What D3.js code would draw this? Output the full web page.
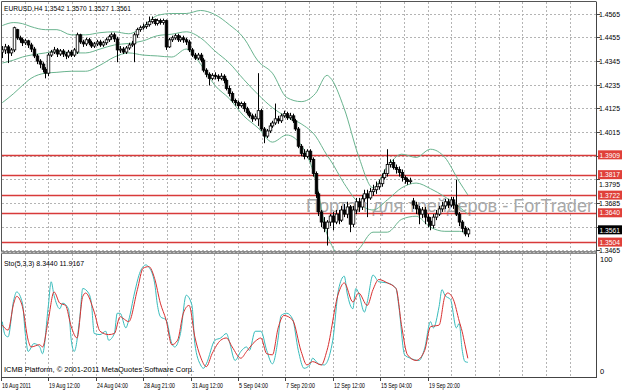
<!DOCTYPE html>
<html><head><meta charset="utf-8">
<script src="https://cdn.jsdelivr.net/npm/d3@7"></script>
<style>
html,body{margin:0;padding:0;background:#fff;}
svg{display:block;font-family:"Liberation Sans",Arial,sans-serif;}
</style></head><body>
<svg id="c" width="624" height="390"></svg>
<script>
// ---------------- DATA ----------------
const titleText = "EURUSD,H4  1.3542 1.3570 1.3527 1.3561";
const stoTitle = "Sto(5,3,3) 8.3440 11.9167";
const copyright = "ICMB Platform, \u00A9 2001-2011 MetaQuotes Software Corp.";
const watermark = "Портал для трейдеров - ForTrader";

const opens = [1.4386,1.4396,1.4410,1.4382,1.4396,1.4490,1.4452,1.4443,1.4429,1.4438,1.4419,1.4400,1.4368,1.4344,1.4330,1.4306,1.4288,1.4372,1.4386,1.4396,1.4377,1.4391,1.4377,1.4368,1.4386,1.4372,1.4386,1.4466,1.4433,1.4424,1.4443,1.4429,1.4414,1.4424,1.4433,1.4419,1.4429,1.4443,1.4457,1.4466,1.4447,1.4396,1.4400,1.4386,1.4405,1.4419,1.4424,1.4466,1.4490,1.4499,1.4504,1.4513,1.4527,1.4537,1.4518,1.4532,1.4523,1.4532,1.4410,1.4443,1.4452,1.4462,1.4443,1.4452,1.4443,1.4433,1.4396,1.4372,1.4358,1.4372,1.4349,1.4302,1.4283,1.4264,1.4278,1.4274,1.4264,1.4274,1.4255,1.4217,1.4194,1.4161,1.4151,1.4137,1.4147,1.4123,1.4104,1.4090,1.4076,1.4076,1.4114,1.4029,1.3996,1.4020,1.4043,1.4057,1.4076,1.4067,1.4090,1.4100,1.4081,1.4090,1.4067,1.4029,1.3949,1.3916,1.3902,1.3926,1.3888,1.3822,1.3728,1.3644,1.3597,1.3568,1.3597,1.3625,1.3597,1.3634,1.3606,1.3653,1.3634,1.3667,1.3587,1.3653,1.3691,1.3667,1.3705,1.3728,1.3709,1.3738,1.3747,1.3761,1.3775,1.3803,1.3822,1.3864,1.3874,1.3850,1.3841,1.3827,1.3803,1.3794,1.3785,1.3695,1.3676,1.3658,1.3634,1.3653,1.3620,1.3601,1.3582,1.3620,1.3634,1.3658,1.3672,1.3691,1.3676,1.3700,1.3676,1.3634,1.3597,1.3568,1.3542];
const highs = [1.4414,1.4424,1.4419,1.4405,1.4504,1.4494,1.4462,1.4452,1.4447,1.4443,1.4429,1.4410,1.4377,1.4353,1.4339,1.4316,1.4382,1.4396,1.4410,1.4405,1.4400,1.4400,1.4386,1.4396,1.4396,1.4405,1.4476,1.4471,1.4443,1.4452,1.4452,1.4438,1.4433,1.4443,1.4443,1.4438,1.4452,1.4466,1.4476,1.4476,1.4457,1.4414,1.4410,1.4414,1.4429,1.4438,1.4476,1.4499,1.4509,1.4518,1.4527,1.4551,1.4551,1.4541,1.4541,1.4541,1.4541,1.4537,1.4452,1.4462,1.4471,1.4471,1.4462,1.4462,1.4452,1.4443,1.4405,1.4382,1.4382,1.4382,1.4358,1.4311,1.4292,1.4288,1.4292,1.4283,1.4288,1.4283,1.4264,1.4231,1.4203,1.4170,1.4161,1.4156,1.4156,1.4132,1.4114,1.4100,1.4100,1.4288,1.4123,1.4038,1.4029,1.4057,1.4067,1.4147,1.4090,1.4100,1.4114,1.4109,1.4104,1.4100,1.4076,1.4038,1.3959,1.3935,1.3935,1.3935,1.3897,1.3832,1.3738,1.3653,1.3620,1.3606,1.3634,1.3644,1.3653,1.3653,1.3672,1.3681,1.3691,1.3676,1.3672,1.3709,1.3709,1.3723,1.3747,1.3747,1.3756,1.3770,1.3785,1.3794,1.3822,1.3841,1.3935,1.3888,1.3888,1.3864,1.3855,1.3841,1.3813,1.3803,1.3803,1.3709,1.3691,1.3672,1.3667,1.3667,1.3634,1.3620,1.3634,1.3653,1.3672,1.3691,1.3705,1.3705,1.3714,1.3714,1.3794,1.3644,1.3606,1.3578,1.3570];
const lows = [1.4358,1.4377,1.4335,1.4368,1.4386,1.4443,1.4429,1.4414,1.4419,1.4405,1.4386,1.4358,1.4330,1.4311,1.4292,1.4264,1.4274,1.4363,1.4377,1.4363,1.4368,1.4363,1.4353,1.4358,1.4363,1.4363,1.4377,1.4424,1.4410,1.4414,1.4419,1.4405,1.4405,1.4414,1.4410,1.4410,1.4419,1.4433,1.4443,1.4433,1.4339,1.4382,1.4377,1.4377,1.4396,1.4410,1.4339,1.4452,1.4480,1.4490,1.4494,1.4504,1.4518,1.4509,1.4509,1.4513,1.4513,1.4396,1.4405,1.4433,1.4443,1.4433,1.4433,1.4429,1.4419,1.4386,1.4363,1.4349,1.4349,1.4339,1.4292,1.4269,1.4231,1.4255,1.4259,1.4250,1.4255,1.4241,1.4208,1.4180,1.4151,1.4137,1.4123,1.4128,1.4109,1.4095,1.4081,1.4062,1.4067,1.4043,1.4020,1.3963,1.3987,1.4010,1.4034,1.4048,1.4053,1.4057,1.4081,1.4071,1.4071,1.4057,1.4020,1.3940,1.3902,1.3888,1.3893,1.3874,1.3808,1.3709,1.3625,1.3573,1.3550,1.3488,1.3578,1.3559,1.3587,1.3587,1.3597,1.3620,1.3615,1.3550,1.3573,1.3634,1.3644,1.3653,1.3691,1.3620,1.3700,1.3719,1.3728,1.3747,1.3761,1.3794,1.3808,1.3850,1.3841,1.3822,1.3808,1.3785,1.3775,1.3770,1.3775,1.3658,1.3634,1.3587,1.3615,1.3587,1.3573,1.3559,1.3568,1.3606,1.3625,1.3644,1.3658,1.3662,1.3667,1.3658,1.3625,1.3578,1.3550,1.3531,1.3527];
const closes = [1.4396,1.4410,1.4382,1.4396,1.4499,1.4452,1.4443,1.4429,1.4438,1.4419,1.4400,1.4368,1.4344,1.4330,1.4306,1.4288,1.4372,1.4386,1.4396,1.4377,1.4391,1.4377,1.4368,1.4386,1.4372,1.4396,1.4466,1.4433,1.4424,1.4443,1.4429,1.4414,1.4424,1.4433,1.4419,1.4429,1.4443,1.4457,1.4466,1.4447,1.4396,1.4400,1.4386,1.4405,1.4419,1.4424,1.4466,1.4490,1.4499,1.4504,1.4513,1.4527,1.4537,1.4518,1.4532,1.4523,1.4532,1.4410,1.4443,1.4452,1.4462,1.4443,1.4452,1.4443,1.4433,1.4396,1.4372,1.4358,1.4372,1.4349,1.4302,1.4283,1.4264,1.4278,1.4274,1.4264,1.4274,1.4255,1.4217,1.4194,1.4161,1.4151,1.4137,1.4147,1.4123,1.4104,1.4090,1.4076,1.4085,1.4114,1.4029,1.3996,1.4020,1.4043,1.4057,1.4076,1.4067,1.4090,1.4100,1.4081,1.4090,1.4067,1.4029,1.3949,1.3916,1.3902,1.3926,1.3888,1.3822,1.3728,1.3644,1.3597,1.3568,1.3597,1.3625,1.3597,1.3634,1.3606,1.3653,1.3634,1.3667,1.3587,1.3653,1.3691,1.3667,1.3705,1.3728,1.3709,1.3738,1.3747,1.3761,1.3775,1.3803,1.3822,1.3864,1.3874,1.3850,1.3841,1.3827,1.3803,1.3794,1.3785,1.3789,1.3676,1.3658,1.3634,1.3653,1.3620,1.3601,1.3582,1.3620,1.3634,1.3658,1.3672,1.3691,1.3676,1.3700,1.3676,1.3634,1.3597,1.3568,1.3542,1.3561];

const bbBars   = [0,4,7,10,15,19,24,29,34,39,44,49,54,59,64,69,74,79,84,89,94,99,104,109,113,114,119,124,129,134,139,144,149,154,159,162];
const bbUpper  = [1.4509,1.4523,1.4518,1.4504,1.4490,1.4490,1.4466,1.4466,1.4476,1.4480,1.4471,1.4504,1.4556,1.4565,1.4565,1.4579,1.4560,1.4513,1.4452,1.4344,1.4288,1.4175,1.4156,1.4194,1.4278,1.4269,1.4123,1.3902,1.3756,1.3855,1.3912,1.3897,1.3935,1.3897,1.3785,1.3723];
const bbMiddle = [1.4335,1.4349,1.4363,1.4372,1.4382,1.4391,1.4382,1.4382,1.4400,1.4419,1.4426,1.4438,1.4462,1.4469,1.4480,1.4452,1.4391,1.4335,1.4259,1.4189,1.4128,1.4085,1.4053,1.3996,1.3907,1.3888,1.3775,1.3686,1.3653,1.3700,1.3756,1.3778,1.3752,1.3714,1.3667,1.3634];
const bbLower  = [1.4151,1.4194,1.4231,1.4264,1.4288,1.4292,1.4297,1.4297,1.4325,1.4363,1.4382,1.4372,1.4368,1.4363,1.4400,1.4330,1.4231,1.4170,1.4090,1.4034,1.3968,1.4001,1.3954,1.3794,1.3540,1.3507,1.3423,1.3470,1.3550,1.3550,1.3610,1.3624,1.3573,1.3554,1.3554,1.3545];

const stoKBars = [0,1,2,4,5,7,8,9,11,13,14,16,17,18,20,21,23,24,25,27,28,30,31,32,34,36,37,39,40,41,43,44,46,48,50,51,53,54,55,57,59,60,62,64,66,67,69,70,71,74,76,78,79,81,83,85,86,88,90,92,94,96,97,99,101,103,105,107,108,110,112,115,117,119,120,122,123,124,126,127,129,131,134,137,138,140,142,145,147,149,150,152,153,154,156,158,159,160,161,162];
const stoK     = [44.5,32.6,31,64,71,61,34,18,25,22,16,58,80,68,56,61,56,28,18,49,74,70,61,34,33,36,28,34,52,52,39,46,70,89,95,93,79,59,49,46,25,22,34,68,59,25,6,3,7,28,30,34,27,10,18,22,19,36,36,19,7,30,50,52,47,19,3,6,12,7,6,28,73,85,70,56,74,70,53,62,86,80,79,74,58,15,12,10,21,44.5,39,58,73,68,64,39,43,20,9,8.344];
const stoDBars = [0,2,4,5,7,9,10,13,14,16,18,20,22,24,26,28,29,32,34,37,39,41,42,44,47,49,51,53,55,57,59,61,63,65,67,69,71,73,76,78,80,83,85,88,90,92,94,96,98,101,104,106,108,111,113,117,119,122,124,127,129,131,134,137,139,141,144,147,149,152,154,155,157,159,160,161,162];
const stoD     = [41.5,37,61,67,58,28,22,24,22,46,71,61,59,40,30,67,70,53,36,33,34,49,47.5,44.5,73,92,93.5,83,61,46,24,28,52,59,31,13,4.5,16,28,30,22,12,18,27,30,16,15,39,50,46,18,6,9,6,19,70,79,62,70,59,73,82,79,74,40,15,10,19,40,41.5,67,70,64,45,36,24,11.9167];

const priceTicks = [1.4565,1.4455,1.4345,1.4235,1.4125,1.4015,1.3905,1.3795,1.3685,1.3575,1.3465];
const levelLines = [1.3909,1.3817,1.3722,1.3640,1.3504];
const lastPrice = 1.3561;
const timeTickBars = [-0.5,16,32.5,49,65.5,82,98.5,115,131.5,148];
const timeTickLabels = ["16 Aug 2011","19 Aug 12:00","24 Aug 04:00","28 Aug 21:00","31 Aug 12:00","5 Sep 04:00","7 Sep 20:00","12 Sep 12:00","15 Sep 04:00","19 Sep 20:00"];
const stoLevels = [100, 0];

// ---------------- LAYOUT ----------------
const L = 2, R = 596, mainTop = 2, mainBot = 251, stoTop = 254, stoBot = 377;
const svg = d3.select("#c");
const xs = d3.scaleLinear().domain([0, 206.6]).range([2.3, 596]);
const ys = d3.scaleLinear().domain([1.346266, 1.461838]).range([251, 2]);
const yst = d3.scaleLinear().domain([0, 100]).range([371.7, 259.3]);

const defs = svg.append("defs");
defs.append("clipPath").attr("id","cm").append("rect").attr("x",L).attr("y",mainTop).attr("width",R-L).attr("height",mainBot-mainTop);
defs.append("clipPath").attr("id","cs").append("rect").attr("x",L).attr("y",stoTop).attr("width",R-L).attr("height",stoBot-stoTop);

svg.append("rect").attr("width",624).attr("height",390).attr("fill","#fff");

// grid
const gridCol = "#b4b4b4";
const gridBars = d3.range(0, 25).map(k => timeTickBars[0] + k * (timeTickBars[9]-timeTickBars[0]) / 18);
const g = svg.append("g");
gridBars.forEach(b => {
  const x = Math.round(xs(b)) + 0.5;
  if (x <= L + 1 || x >= R - 1) return;
  g.append("line").attr("x1",x).attr("x2",x).attr("y1",mainTop).attr("y2",mainBot)
    .attr("stroke",gridCol).attr("stroke-width",1).attr("stroke-dasharray","2,2");
  g.append("line").attr("x1",x).attr("x2",x).attr("y1",stoTop).attr("y2",stoBot)
    .attr("stroke",gridCol).attr("stroke-width",1).attr("stroke-dasharray","2,2");
});
priceTicks.forEach(p => {
  const y = Math.round(ys(p)) + 0.5;
  g.append("line").attr("x1",L).attr("x2",R).attr("y1",y).attr("y2",y)
    .attr("stroke",gridCol).attr("stroke-width",1).attr("stroke-dasharray","2,2");
});

// main panel content
const main = svg.append("g").attr("clip-path","url(#cm)");

// watermark
main.append("text").attr("x",306).attr("y",212)
  .attr("font-size",17.5).attr("fill","#a8a8a8").attr("textLength",287).attr("lengthAdjust","spacingAndGlyphs")
  .text(watermark);

// level lines
levelLines.forEach(p => {
  const y = Math.round(ys(p)) + 0.5;
  main.append("line").attr("x1",L).attr("x2",R).attr("y1",y).attr("y2",y).attr("stroke","#d83a3a").attr("stroke-width",1.3);
});

// bollinger bands
const bbLine = d3.line().x(d => xs(d[0])).y(d => ys(d[1])).curve(d3.curveMonotoneX);
[bbUpper, bbMiddle, bbLower].forEach(arr => {
  main.append("path").attr("d", bbLine(d3.zip(bbBars, arr))).attr("fill","none")
    .attr("stroke","#6ab48f").attr("stroke-width",1);
});

// candles
const candles = main.append("g");
opens.forEach((o, i) => {
  const c = closes[i], h = highs[i], l = lows[i];
  const xc = Math.round(xs(i)) + 0.5;
  candles.append("line").attr("x1",xc).attr("x2",xc).attr("y1",ys(h)).attr("y2",ys(l)).attr("stroke","#000").attr("stroke-width",1);
  const yTop = ys(Math.max(o, c)), yBot = ys(Math.min(o, c));
  const up = c >= o;
  candles.append("rect").attr("x", xc - 1.3).attr("width", 2.6)
    .attr("y", yTop).attr("height", Math.max(yBot - yTop, 1))
    .attr("fill", up ? "#fff" : "#000").attr("stroke","#000").attr("stroke-width",0.8);
});

// stochastic
const sto = svg.append("g").attr("clip-path","url(#cs)");
const stLine = d3.line().x(d => xs(d[0])).y(d => yst(d[1])).curve(d3.curveMonotoneX);
sto.append("path").attr("d", stLine(d3.zip(stoKBars, stoK))).attr("fill","none").attr("stroke","#38bcbc").attr("stroke-width",1);
sto.append("path").attr("d", stLine(d3.zip(stoDBars, stoD))).attr("fill","none").attr("stroke","#d93030").attr("stroke-width",1);

// frame
const fr = svg.append("g");
fr.append("line").attr("x1",L-0.5).attr("x2",R).attr("y1",1.5).attr("y2",1.5).attr("stroke","#555");
fr.append("line").attr("x1",1.5).attr("x2",1.5).attr("y1",1.5).attr("y2",stoBot).attr("stroke","#555");
fr.append("line").attr("x1",R+0.5).attr("x2",R+0.5).attr("y1",1.5).attr("y2",stoBot+0.5).attr("stroke","#444");
fr.append("rect").attr("x",1).attr("y",mainBot).attr("width",R-0.5).attr("height",3).attr("fill","#8c8c8c");
fr.append("line").attr("x1",1).attr("x2",R+1).attr("y1",mainBot+1.5).attr("y2",mainBot+1.5).attr("stroke","#bdbdbd").attr("stroke-dasharray","2,2");
fr.append("line").attr("x1",1).attr("x2",R+1).attr("y1",stoBot+0.5).attr("y2",stoBot+0.5).attr("stroke","#444");

// texts
const fs = 7.5;
svg.append("text").attr("x",4).attr("y",10.5).attr("font-size",8).attr("fill","#000").attr("textLength",127).attr("lengthAdjust","spacingAndGlyphs").text(titleText);
svg.append("text").attr("x",4).attr("y",266).attr("font-size",8).attr("fill","#000").attr("textLength",80).attr("lengthAdjust","spacingAndGlyphs").text(stoTitle);
svg.append("text").attr("x",4).attr("y",372).attr("font-size",8).attr("fill","#000").attr("textLength",190).attr("lengthAdjust","spacingAndGlyphs").text(copyright);

// right price axis
const ax = svg.append("g");
const boxYs = levelLines.concat([lastPrice]).map(p => ys(p));
priceTicks.forEach(p => {
  const y = Math.round(ys(p)) + 0.5;
  ax.append("line").attr("x1",R+1).attr("x2",R+4).attr("y1",y).attr("y2",y).attr("stroke","#444");
  // labels fully hidden behind a marker box are not drawn (as in the reference)
  const near = boxYs.map(by => Math.abs(by - y));
  const dmin = Math.min(...near);
  if (dmin < 3.5) return;
  let ty = y + 2.7;
  if (dmin < 8) { const by = boxYs[near.indexOf(dmin)]; ty = by < y ? by + 12 : by - 5.2; }
  ax.append("text").attr("x",599).attr("y",ty).attr("font-size",fs).attr("fill","#000").attr("textLength",21).attr("lengthAdjust","spacingAndGlyphs").text(p.toFixed(4));
});
levelLines.forEach(p => {
  const y = ys(p);
  ax.append("rect").attr("x",598).attr("y",y-4.5).attr("width",24).attr("height",9).attr("fill","#e0403a");
  ax.append("text").attr("x",599.5).attr("y",y+2.7).attr("font-size",fs).attr("fill","#fff").attr("textLength",20.5).attr("lengthAdjust","spacingAndGlyphs").text(p.toFixed(4));
});
{
  const y = ys(lastPrice);
  ax.append("rect").attr("x",598).attr("y",y-4.5).attr("width",24).attr("height",9).attr("fill","#000");
  ax.append("text").attr("x",599.5).attr("y",y+2.7).attr("font-size",fs).attr("fill","#fff").attr("textLength",20.5).attr("lengthAdjust","spacingAndGlyphs").text(lastPrice.toFixed(4));
}
stoLevels.forEach(v => {
  const y = yst(v);
  ax.append("text").attr("x",600).attr("y",y+2.7).attr("font-size",fs).attr("fill","#000").text(String(v));
});

// time axis
timeTickBars.forEach((b, i) => {
  const x = Math.round(xs(b)) + 0.5;
  ax.append("line").attr("x1",x).attr("x2",x).attr("y1",stoBot).attr("y2",stoBot+4).attr("stroke","#444");
  ax.append("text").attr("x",x+0.5).attr("y",388).attr("font-size",fs).attr("fill","#000")
    .attr("textLength", timeTickLabels[i].length > 11 ? 31 : 29).attr("lengthAdjust","spacingAndGlyphs").text(timeTickLabels[i]);
});
</script>
</body></html>
